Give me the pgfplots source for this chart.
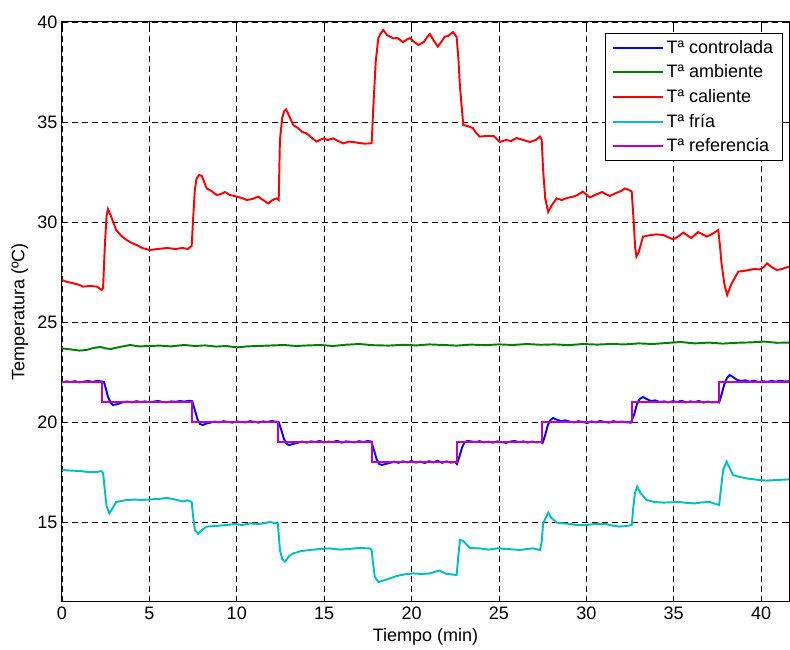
\documentclass[border=0pt]{standalone}
\usepackage{fontspec}
\setmainfont{Liberation Sans}
\usepackage{pgfplots}
\pgfplotsset{compat=1.18}
\usetikzlibrary{calc}
\definecolor{mblue}{rgb}{0,0,1}
\definecolor{mgreen}{rgb}{0,0.5,0}
\definecolor{mred}{rgb}{1,0,0}
\definecolor{mcyan}{rgb}{0,0.75,0.75}
\definecolor{mmag}{rgb}{0.75,0,0.75}
\begin{document}
\begin{tikzpicture}
\begin{axis}[
  scale only axis,
  width=545.25pt, height=435pt,
  xmin=0, xmax=41.6, ymin=11, ymax=40,
  xtick={0,5,...,40}, ytick={15,20,...,40},
  tick align=inside, tick pos=both,
  major tick length=4.5pt,
  axis line style={line width=0.75pt},
  tick style={line width=0.6pt, black},
  grid=major,
  major grid style={dash pattern=on 4.5pt off 3pt, line width=0.5pt, black},
  /pgf/number format/assume math mode=true,
  ticklabel style={font=\fontsize{13.5}{16}\selectfont},
  label style={font=\fontsize{13.5}{16}\selectfont},
  xlabel={Tiempo (min)},
  ylabel={Temperatura (ºC)},
  xlabel style={yshift=0pt},
  ylabel style={yshift=0pt},
  legend cell align=left,
  legend style={at={(axis description cs:1,1)}, anchor=north east, xshift=-4.5pt, yshift=-8.25pt,
    font=\fontsize{13.5}{16}\selectfont, draw=black, line width=0.6pt, fill=white,
    row sep=3.2pt, inner xsep=5pt, inner ysep=3pt},
  legend image code/.code={\draw[#1, line width=1.4pt] (0pt,0pt) -- (37.5pt,0pt);},
  every axis plot/.append style={line width=1.45pt},
]
\addplot[mblue] coordinates {
(0,21.98)(0.25,22.03)(0.5,22.0)(0.75,22.04)(1.0,21.98)(1.25,22.02)(1.5,22.05)(1.75,22.0)(2.0,22.06)(2.25,22.03)(2.4,22.0)
(2.5,21.7)(2.63,21.25)(2.8,20.95)(2.92,20.85)(3.1,20.88)(3.3,20.93)(3.5,21.0)
(3.75,21.02)(4.0,20.98)(4.25,21.04)(4.5,21.0)(4.75,21.03)(5.0,20.99)(5.25,21.02)(5.5,21.05)(5.75,21.0)(6.0,20.98)(6.25,21.03)(6.5,21.01)(6.75,21.05)(7.0,21.02)(7.25,21.06)(7.45,21.04)
(7.6,20.6)(7.75,20.15)(7.9,19.9)(8.05,19.85)(8.25,19.92)(8.5,19.97)
(8.75,20.02)(9,19.98)(9.25,20.04)(9.5,20.0)(9.75,19.97)(10,20.03)(10.25,20.0)(10.5,19.98)(10.75,20.04)(11,20.01)(11.25,19.97)(11.5,20.03)(11.75,20.0)(12,20.05)(12.2,20.02)(12.4,20.0)
(12.55,19.6)(12.7,19.15)(12.85,18.9)(13.0,18.85)(13.2,18.9)(13.45,18.95)
(13.75,19.02)(14,18.97)(14.25,19.03)(14.5,19.0)(14.75,19.05)(15,18.98)(15.25,19.02)(15.5,19.0)(15.75,19.06)(16,18.97)(16.25,19.03)(16.5,19.01)(16.75,18.98)(17,19.04)(17.25,19.0)(17.5,19.05)(17.7,19.02)
(17.85,18.6)(18.0,18.15)(18.15,17.9)(18.3,17.85)(18.5,17.9)(18.75,17.95)
(19,18.02)(19.25,17.96)(19.5,18.03)(19.75,17.98)(20,18.05)(20.25,17.97)(20.5,18.02)(20.75,17.95)(21,18.04)(21.25,17.98)(21.5,18.06)(21.75,17.96)(22,18.03)(22.25,17.97)(22.5,18.0)(22.6,17.9)
(22.75,18.3)(22.9,18.75)(23.05,19.0)(23.2,19.05)(23.4,19.03)
(23.65,19.0)(23.9,19.04)(24.15,18.98)(24.4,19.02)(24.65,18.97)(24.9,19.03)(25.15,19.0)(25.4,18.96)(25.65,19.02)(25.9,19.05)(26.15,18.99)(26.4,19.03)(26.65,18.97)(26.9,19.02)(27.15,18.98)(27.4,19.0)(27.5,18.95)
(27.65,19.35)(27.8,19.85)(27.95,20.1)(28.1,20.2)(28.3,20.12)(28.55,20.05)
(28.8,20.08)(29.05,20.02)(29.3,19.98)(29.55,20.04)(29.8,20.0)(30.05,19.95)(30.3,20.03)(30.55,19.98)(30.8,20.05)(31.05,20.0)(31.3,19.97)(31.55,20.04)(31.8,20.0)(32.05,20.02)(32.3,19.98)(32.55,19.97)
(32.75,20.4)(32.9,20.9)(33.05,21.15)(33.25,21.25)(33.45,21.15)(33.7,21.05)
(33.95,21.08)(34.2,21.0)(34.45,21.03)(34.7,20.98)(34.95,21.04)(35.2,21.0)(35.45,21.06)(35.7,20.98)(35.95,21.03)(36.2,21.0)(36.45,21.05)(36.7,20.97)(36.95,21.02)(37.2,20.98)(37.5,21.0)(37.6,20.98)
(37.75,21.4)(37.9,21.9)(38.05,22.2)(38.2,22.35)(38.4,22.25)(38.6,22.12)
(38.85,22.05)(39.1,22.08)(39.35,22.02)(39.6,22.06)(39.85,22.0)(40.1,22.04)(40.35,22.01)(40.6,22.05)(40.85,22.02)(41.1,22.06)(41.35,22.03)(41.6,22.04)
};
\addlegendentry{Tª controlada}
\addplot[mgreen] coordinates {
(0,23.68)(0.5,23.63)(1.0,23.57)(1.4,23.6)(1.8,23.7)(2.2,23.75)(2.5,23.68)(2.8,23.65)(3.3,23.75)(3.9,23.85)(4.4,23.78)(5.0,23.8)(5.6,23.82)(6.2,23.78)(7.0,23.85)(7.6,23.8)(8.2,23.83)(8.8,23.77)(9.4,23.8)(10.0,23.73)(10.6,23.78)(11.2,23.8)(11.8,23.82)(12.7,23.85)(13.4,23.8)(14.1,23.83)(14.8,23.85)(15.5,23.8)(16.2,23.86)(17.0,23.9)(17.8,23.84)(18.7,23.82)(19.5,23.86)(20.3,23.83)(21.0,23.88)(21.8,23.85)(22.6,23.82)(23.4,23.87)(24.2,23.84)(25.0,23.88)(25.8,23.85)(26.6,23.9)(27.4,23.86)(28.2,23.88)(29.0,23.84)(29.8,23.9)(30.6,23.87)(31.4,23.9)(32.2,23.88)(33.0,23.93)(33.8,23.9)(34.6,23.95)(35.4,24.0)(36.2,23.93)(37.0,23.97)(37.8,23.92)(38.6,23.96)(39.4,23.98)(40.2,24.02)(40.9,23.96)(41.6,23.97)
};
\addlegendentry{Tª ambiente}
\addplot[mred] coordinates {
(0,27.1)(0.3,27.0)(0.6,26.95)(1.0,26.85)(1.2,26.77)(1.6,26.8)(2.0,26.77)(2.27,26.6)(2.35,26.7)(2.45,28.8)(2.55,30.3)(2.63,30.65)(2.8,30.3)(3.1,29.6)(3.4,29.3)(3.7,29.1)(4.0,28.95)(4.27,28.85)(4.6,28.7)(5.0,28.6)(5.5,28.65)(6.0,28.7)(6.5,28.65)(6.9,28.7)(7.2,28.65)(7.42,28.8)(7.51,30.27)(7.6,31.6)(7.7,32.18)(7.85,32.35)(8.0,32.3)(8.28,31.68)(8.55,31.55)(8.85,31.35)(9.1,31.4)(9.33,31.5)(9.6,31.35)(10.0,31.27)(10.3,31.2)(10.57,31.1)(10.9,31.15)(11.23,31.27)(11.5,31.1)(11.8,30.93)(12.05,31.1)(12.28,31.18)(12.4,31.1)(12.47,34.1)(12.6,35.2)(12.72,35.55)(12.82,35.63)(12.95,35.4)(13.23,34.85)(13.5,34.7)(13.75,34.5)(14.0,34.43)(14.3,34.2)(14.57,34.02)(14.95,34.18)(15.2,34.1)(15.52,34.18)(15.8,34.05)(16.1,33.93)(16.4,34.02)(16.67,34.0)(17.0,33.95)(17.3,33.92)(17.65,33.93)(17.72,33.95)(17.8,35.5)(17.95,38.0)(18.1,39.2)(18.25,39.45)(18.38,39.6)(18.6,39.35)(18.95,39.18)(19.2,39.2)(19.5,39.0)(19.7,39.1)(19.9,39.2)(20.15,39.0)(20.4,38.85)(20.7,39.0)(20.9,39.25)(21.05,39.4)(21.25,39.1)(21.5,38.77)(21.7,39.0)(21.9,39.27)(22.1,39.3)(22.37,39.5)(22.58,39.25)(22.68,38.2)(22.77,36.8)(22.96,34.85)(23.2,34.8)(23.5,34.7)(23.7,34.45)(23.9,34.27)(24.3,34.3)(24.7,34.3)(25.05,34.0)(25.4,34.1)(25.7,34.05)(26.0,34.2)(26.4,34.1)(26.77,34.0)(27.1,34.1)(27.35,34.27)(27.45,34.1)(27.53,32.6)(27.65,31.2)(27.82,30.5)(28.0,30.8)(28.3,31.18)(28.6,31.1)(28.9,31.2)(29.25,31.27)(29.5,31.35)(29.8,31.52)(30.2,31.23)(30.5,31.35)(30.9,31.5)(31.1,31.4)(31.35,31.3)(31.7,31.45)(32.0,31.55)(32.2,31.68)(32.45,31.6)(32.6,31.52)(32.7,30.2)(32.8,28.7)(32.87,28.27)(33.0,28.5)(33.25,29.27)(33.7,29.35)(34.0,29.38)(34.4,29.35)(34.97,29.13)(35.3,29.3)(35.55,29.47)(36.0,29.2)(36.4,29.5)(36.9,29.27)(37.2,29.4)(37.55,29.6)(37.65,28.8)(37.74,27.93)(37.9,26.9)(38.06,26.35)(38.3,26.9)(38.7,27.52)(39.0,27.55)(39.3,27.6)(39.6,27.65)(39.93,27.63)(40.15,27.75)(40.35,27.93)(40.6,27.75)(40.9,27.6)(41.2,27.65)(41.6,27.77)
};
\addlegendentry{Tª caliente}
\addplot[mcyan] coordinates {
(0,17.6)(0.5,17.57)(1.0,17.55)(1.5,17.5)(2.0,17.5)(2.25,17.55)(2.35,17.45)(2.45,16.6)(2.55,15.8)(2.71,15.43)(2.9,15.7)(3.1,16.0)(3.4,16.05)(3.7,16.1)(4.2,16.12)(4.6,16.1)(5.0,16.13)(5.5,16.15)(6.0,16.2)(6.5,16.12)(6.9,16.03)(7.2,16.08)(7.42,16.0)(7.5,15.3)(7.6,14.6)(7.8,14.4)(8.0,14.6)(8.28,14.77)(8.8,14.8)(9.4,14.85)(9.9,14.9)(10.3,14.85)(10.75,14.93)(11.3,14.9)(11.9,15.0)(12.15,14.95)(12.35,14.93)(12.47,13.6)(12.6,13.15)(12.76,13.02)(13.0,13.3)(13.23,13.43)(13.7,13.55)(14.2,13.6)(14.8,13.65)(15.3,13.68)(15.9,13.62)(16.4,13.65)(17.0,13.7)(17.6,13.68)(17.72,13.6)(17.8,12.9)(17.9,12.27)(18.1,12.0)(18.3,12.05)(18.77,12.18)(19.15,12.3)(19.6,12.38)(20.1,12.43)(20.6,12.4)(21.05,12.43)(21.3,12.5)(21.6,12.57)(22.0,12.4)(22.3,12.38)(22.58,12.35)(22.68,13.3)(22.77,14.1)(22.96,14.05)(23.34,13.7)(23.9,13.68)(24.4,13.62)(24.9,13.68)(25.5,13.65)(26.2,13.6)(26.6,13.65)(26.96,13.68)(27.35,13.6)(27.45,14.0)(27.53,14.93)(27.82,15.47)(28.0,15.2)(28.3,14.97)(29.06,14.9)(29.5,14.85)(30.0,14.85)(30.5,14.9)(31.1,14.9)(31.5,14.82)(31.9,14.77)(32.3,14.8)(32.6,14.85)(32.7,15.8)(32.78,16.43)(32.91,16.77)(33.1,16.45)(33.45,16.1)(33.9,16.0)(34.4,15.97)(35.3,16.0)(35.8,15.95)(36.2,15.93)(36.6,15.98)(37.07,16.0)(37.4,15.9)(37.6,15.85)(37.7,16.6)(37.83,17.6)(38.03,18.02)(38.2,17.7)(38.4,17.35)(38.8,17.25)(39.17,17.18)(39.7,17.12)(40.3,17.07)(40.9,17.1)(41.6,17.13)
};
\addlegendentry{Tª fría}
\addplot[mmag] coordinates {
(0,22)(2.3,22)(2.3,21)(7.44,21)(7.44,20)(12.35,20)(12.35,19)(17.72,19)(17.72,18)(22.6,18)(22.6,19)(27.46,19)(27.46,20)(32.6,20)(32.6,21)(37.6,21)(37.6,22)(41.6,22)
};
\addlegendentry{Tª referencia}
\end{axis}
\pgfresetboundingbox
\path ($(current axis.south west)+(-46.5pt,-36pt)$) rectangle ($(current axis.north east)+(0.75pt,16.5pt)$);
\end{tikzpicture}
\end{document}
